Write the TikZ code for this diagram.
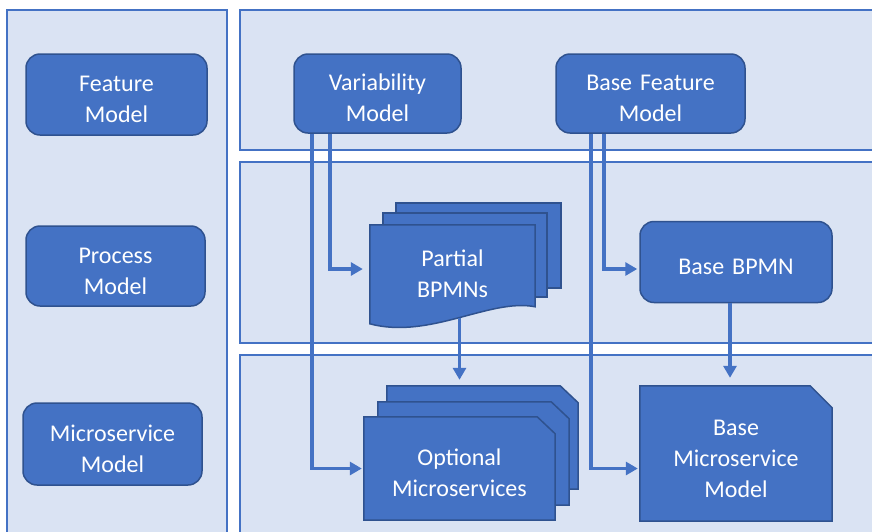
\documentclass[tikz,border=0pt]{standalone}
\usepackage{fontspec}
\setmainfont{Carlito}
\usetikzlibrary{arrows.meta, positioning, calc, backgrounds}
\definecolor{panelfill}{HTML}{DAE3F3}
\definecolor{boxblue}{HTML}{4472C4}
\definecolor{boxedge}{HTML}{2F528F}
\pgfdeclarelayer{docs}
\pgfsetlayers{background,docs,main}

\begin{document}
\begin{tikzpicture}[
    x=1pt, y=-1pt,
    panel/.style={draw=boxblue, line width=1.2pt, fill=panelfill},
    block/.style={rectangle, draw=boxedge, line width=1.5pt, fill=boxblue, text=white, rounded corners=14pt, text width=150pt, align=center, inner sep=0pt, font=\fontsize{24}{31}\selectfont, execute at begin node={\rule{0pt}{26pt}}},
    doctext/.style={rectangle, text=white, text width=150pt, align=center, inner sep=0pt, font=\fontsize{24}{31}\selectfont, execute at begin node={\rule{0pt}{26pt}}},
    sheet/.style={draw=boxedge, line width=1.5pt, fill=boxblue},
    arrow/.style={-{Triangle[length=12pt,width=13pt]}, line width=3.8pt, draw=boxblue, shorten >=2pt}
]
\useasboundingbox (0,0) rectangle (872,531);

% Layers
\begin{pgfonlayer}{background}
\draw[panel] (7,10) rectangle (227,545);
\draw[panel] (240,10) rectangle (885,150);
\draw[panel] (240,162) rectangle (885,343);
\draw[panel] (240,355) rectangle (885,545);
\end{pgfonlayer}

% Layer names
\node[block, minimum width=181pt, minimum height=81pt] (featmodel) at (116.5,94.5) {Feature\\Model};
\node[block, minimum width=179pt, minimum height=80pt] (procmodel) at (115.5,266) {Process\\Model};
\node[block, minimum width=179pt, minimum height=82pt] (msmodel) at (112.5,444) {Microservice\\Model};

% Feature models
\node[block, minimum width=167pt, minimum height=79pt] (varmodel) at (377.5,93.5) {Variability\\Model};
\node[block, minimum width=189pt, minimum height=79pt] (bfmodel) at (650.5,93.5) {Base Feature\\Model};

% Process models
\node[doctext, minimum width=165pt, minimum height=88pt] (partial) at (452.5,269) {Partial\\BPMNs};
\node[block, minimum width=192pt, minimum height=81pt] (basebpmn) at (736,262) {Base BPMN};

% Microservice models
\node[doctext, minimum width=191pt, minimum height=103pt] (optional) at (459.5,468.5) {Optional\\Microservices};
\node[doctext, minimum width=192pt, minimum height=135pt] (basems) at (736,453.5) {Base\\Microservice\\Model};

% Document and snipped shapes behind the texts
\begin{pgfonlayer}{docs}
\draw[sheet] ($(partial.north west)+(26,-22)$) rectangle ($(partial.north east)+(26,63)$);
\draw[sheet] ($(partial.north west)+(13,-12)$) rectangle ($(partial.north east)+(12,72)$);
\draw[sheet] (partial.north west) -- (partial.north east) -- ($(partial.north east)+(0,82)$)
    .. controls ($(partial.north east)+(-45,73)$) and ($(partial.north west)+(60,115)$) .. ($(partial.north west)+(0,99)$) -- cycle;
\foreach \dx/\dy in {23/-31, 14/-15, 0/0} {
    \draw[sheet] ($(optional.north west)+(\dx,\dy)$) -- ($(optional.north east)+(\dx-18,\dy)$)
        -- ($(optional.north east)+(\dx,\dy+17)$) -- ($(optional.south east)+(\dx,\dy)$)
        -- ($(optional.south west)+(\dx,\dy)$) -- cycle;
}
\draw[sheet] (basems.north west) -- ($(basems.north east)+(-22,0)$) -- ($(basems.north east)+(0,22)$)
    -- (basems.south east) -- (basems.south west) -- cycle;
\end{pgfonlayer}

% Arrows
\draw[arrow] ($(varmodel.south west)+(19,0)$) |- (optional.west);
\draw[arrow, shorten >=7pt] ($(varmodel.south west)+(37,0)$) |- (partial.west);
\draw[arrow] ($(bfmodel.south west)+(36,0)$) |- (basems.west |- optional.west);
\draw[arrow] ($(bfmodel.south west)+(49,0)$) |- (basebpmn.west |- partial.west);
\draw[arrow] ($(partial.south -| optional.north)+(0,5)$) -- ($(optional.north)+(0,-35)$);
\draw[arrow] ([xshift=-6pt]basebpmn.south) -- ($(basems.north)+(-6,-6)$);

\end{tikzpicture}
\end{document}
